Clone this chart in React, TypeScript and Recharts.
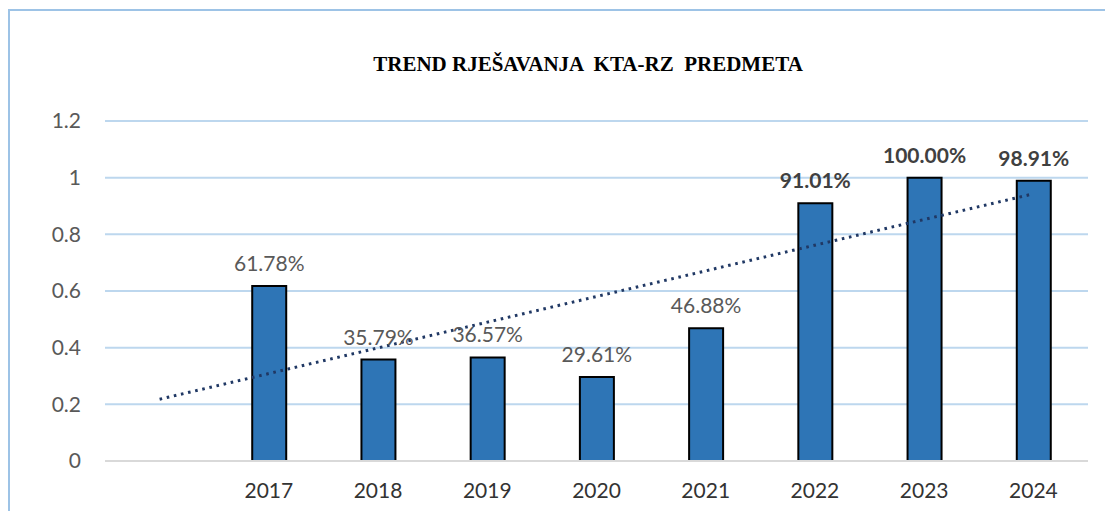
import React from 'react';
import { ComposedChart, Bar, Line, XAxis, YAxis, CartesianGrid, LabelList } from 'recharts';

// first category is empty in the source chart (trendline starts there)
const years = ['', '2017', '2018', '2019', '2020', '2021', '2022', '2023', '2024'];
const shares = [null, 0.6178, 0.3579, 0.3657, 0.2961, 0.4688, 0.9101, 1.0, 0.9891];
// linear trendline, only its two ends are drawn
const trend = [0.218, null, null, null, null, null, null, null, 0.943];
const yTicks = [0, 0.2, 0.4, 0.6, 0.8, 1, 1.2];
const boldYears = ['2022', '2023', '2024'];

const data = years.map((year, i) => ({ year, share: shares[i], trend: trend[i] }));

const FONT = 'Lato, "Open Sans", sans-serif';

const ShareLabel = (props: any) => {
  const { x, y, width, value } = props;
  if (value == null) return null;
  const bold = boldYears.includes(years[shares.indexOf(value)]);
  return (
    <text
      x={x + width / 2}
      y={y - 15}
      textAnchor="middle"
      fontFamily={FONT}
      fontSize={21}
      fontWeight={bold ? 700 : 400}
      fill={bold ? '#404040' : '#595959'}
    >
      {(value * 100).toFixed(2)}%
    </text>
  );
};

const App: React.FC = () => {
  return (
    <div style={{ position: 'absolute', left: 0, top: 0, width: 1105, height: 511, background: '#fff', overflow: 'hidden' }}>
      <div
        style={{
          position: 'absolute',
          left: 8,
          top: 9,
          width: 1200,
          height: 600,
          borderTop: '2.5px solid #9DC3E6',
          borderLeft: '2.5px solid #9DC3E6',
        }}
      />
      <svg width={1105} height={100} style={{ position: 'absolute', left: 0, top: 0 }}>
        <text
          x={588}
          y={71}
          textAnchor="middle"
          fontFamily='"Liberation Serif", "Times New Roman", serif'
          fontWeight={700}
          fontSize={21}
          fill="#000"
          style={{ whiteSpace: 'pre' }}
        >
          TREND RJEŠAVANJA  KTA-RZ  PREDMETA
        </text>
      </svg>
      <div style={{ position: 'absolute', left: 0, top: 0 }}>
        <ComposedChart
          width={1105}
          height={511}
          data={data}
          margin={{ top: 121, right: 17, bottom: 0, left: 0 }}
        >
          <CartesianGrid vertical={false} stroke="#BDD7EE" strokeWidth={2} />
          <XAxis
            dataKey="year"
            height={50}
            axisLine={{ stroke: '#D9D9D9', strokeWidth: 2 }}
            tickLine={false}
            tickSize={0}
            tickMargin={22}
            tick={{ fill: '#333333', fontSize: 21, fontFamily: FONT }}
            interval={0}
          />
          <YAxis
            domain={[0, 1.2]}
            ticks={yTicks}
            tickFormatter={(v: number) => String(v)}
            width={105}
            axisLine={false}
            tickLine={false}
            tickSize={0}
            tickMargin={24}
            tick={{ fill: '#595959', fontSize: 21, fontFamily: FONT }}
          />
          <Bar dataKey="share" fill="#2E75B6" stroke="#000" strokeWidth={2} barSize={34} isAnimationActive={false}>
            <LabelList dataKey="share" content={<ShareLabel />} />
          </Bar>
          <Line
            dataKey="trend"
            type="linear"
            connectNulls
            dot={false}
            activeDot={false}
            stroke="#203864"
            strokeWidth={3}
            strokeDasharray="2.6 4.7"
            isAnimationActive={false}
          />
        </ComposedChart>
      </div>
    </div>
  );
};

export default App;
